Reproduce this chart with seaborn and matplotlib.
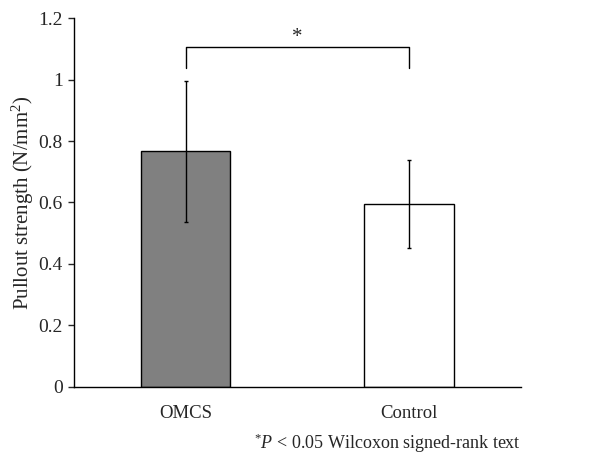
import numpy as np
import pandas as pd
import matplotlib
matplotlib.use("Agg")
import matplotlib.pyplot as plt
import seaborn as sns

# datos
grupos = ["OMCS", "Control"]
medias = [0.767, 0.595]
desv = [0.23, 0.142]
colores = ["#808080", "#ffffff"]
marca_sig = "*"
nivel_corchete = 1.107
pie_corchete = 1.039

sns.set_theme(style="white")
plt.rcParams["font.family"] = ["Liberation Serif", "DejaVu Serif"]
plt.rcParams["mathtext.fontset"] = "custom"
plt.rcParams["mathtext.rm"] = "Liberation Serif"
plt.rcParams["mathtext.it"] = "Liberation Serif:italic"

df = pd.DataFrame({"grupo": grupos, "media": medias, "sd": desv})

fig = plt.figure(figsize=(6.12, 4.57), dpi=100)
ax = fig.add_axes([0.121, 0.154, 0.730, 0.806])

sns.barplot(data=df, x="grupo", y="media", hue="grupo", palette=colores,
            width=0.4, errorbar=None, edgecolor="black", linewidth=1.0,
            legend=False, ax=ax)
ax.errorbar(np.arange(len(grupos)), df["media"], yerr=df["sd"], fmt="none",
            ecolor="black", elinewidth=1.0, capsize=1.5, capthick=1.0)

# corchete de significancia
ax.plot([0, 0, 1, 1], [pie_corchete, nivel_corchete, nivel_corchete, pie_corchete],
        color="black", linewidth=1.0)
ax.text(0.5, nivel_corchete + 0.03, marca_sig, ha="center", va="center", fontsize=15)

ax.set_xlim(-0.5, 1.5)
ax.set_ylim(0, 1.2)
ax.set_yticks(np.arange(0, 1.21, 0.2))
ax.set_yticklabels(["0", "0.2", "0.4", "0.6", "0.8", "1", "1.2"])
ax.set_xticks([-0.5, 0.5, 1.5])
ax.set_xticklabels([])
ax.set_xticks([0, 1], minor=True)
ax.set_xticklabels(grupos, minor=True)
ax.tick_params(axis="x", which="major", direction="out", length=4, width=1, colors="black")
ax.tick_params(axis="x", which="minor", length=0, pad=13, labelsize=13.5)
ax.tick_params(axis="y", direction="out", length=4, width=1, labelsize=14, left=True, pad=4)

for lado in ["top", "right"]:
    ax.spines[lado].set_visible(False)
for lado in ["left", "bottom"]:
    ax.spines[lado].set_color("black")
    ax.spines[lado].set_linewidth(1.0)

ax.set_xlabel("")
ax.set_ylabel("Pullout strength (N/mm$^2$)", fontsize=15, labelpad=2)

fig.text(0.851, 0.004, r"$^{*}\mathit{P}$ < 0.05 Wilcoxon signed-rank text",
         ha="right", va="bottom", fontsize=13)

plt.savefig("out.png", dpi=100)
plt.close()
